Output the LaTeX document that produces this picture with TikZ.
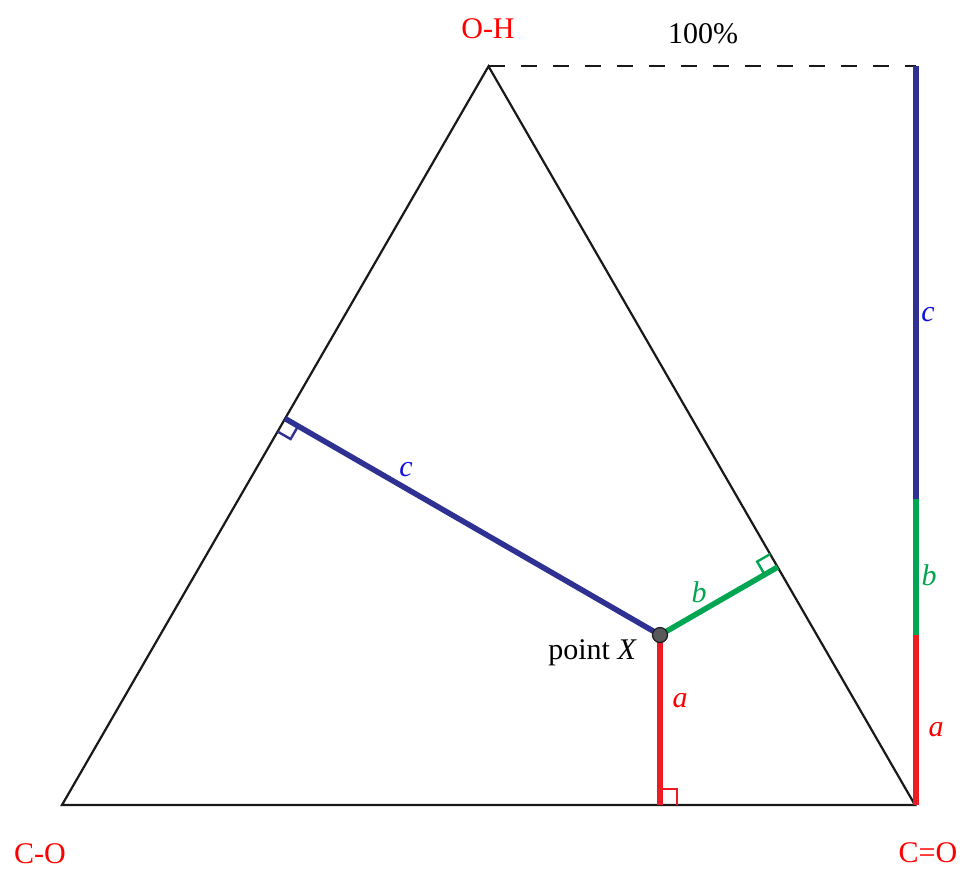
\documentclass[tikz,border=0pt]{standalone}
\usepackage{fontspec}
\setmainfont{Liberation Serif}
\usetikzlibrary{calc}
\definecolor{lred}{HTML}{ED1C24}
\definecolor{lblue}{HTML}{2E3192}
\definecolor{lgreen}{HTML}{00A651}
\definecolor{tred}{HTML}{FF0000}
\definecolor{tblue}{HTML}{1010E0}
\definecolor{tgreen}{HTML}{00A650}
\begin{document}
\begin{tikzpicture}[x=1pt,y=-1pt,
  every node/.style={inner sep=0pt, font=\fontsize{30}{36}\selectfont},
  side/.style={line width=2.2pt, black!90},
  seg/.style={line width=5.5pt},
  rmark/.style={line width=2.4pt},
  lab/.style={anchor=base},
]
\useasboundingbox (0,0) rectangle (964,871);
% triangle corners and point X
\coordinate (CO) at (62,805);
\coordinate (CdO) at (915,805);
\coordinate (OH) at (488.5,66.3);
\coordinate (X) at (660,635);
% feet of perpendiculars
\coordinate (Fa) at ($(CO)!(X)!(CdO)$);
\coordinate (Fb) at ($(CdO)!(X)!(OH)$);
\coordinate (Fc) at ($(CO)!(X)!(OH)$);
% right scale
\coordinate (S0) at (916,66.3);
\coordinate (S1) at (916,499.2);
\coordinate (S2) at (916,635);
\coordinate (S3) at (916,805);
% triangle
\draw[side, line join=miter] (CO) -- (CdO) -- (OH) -- cycle;
\draw[line width=1.8pt, black!90, dash pattern=on 16pt off 16pt] (OH) -- (S0);
% right scale
\draw[seg, lblue] (S0) -- (S1);
\draw[seg, lgreen] (S1) -- (S2);
\draw[seg, lred] (S2) -- (S3);
% right-angle markers
\coordinate (a1) at ($(Fa)!17pt!(CdO)$);
\coordinate (a3) at ($(Fa)!16pt!(X)$);
\coordinate (a2) at ($(a1)+(a3)-(Fa)$);
\draw[rmark, lred] (a1) -- (a2) -- (a3);
\coordinate (b1) at ($(Fb)!15pt!(OH)$);
\coordinate (b3) at ($(Fb)!15pt!(X)$);
\coordinate (b2) at ($(b1)+(b3)-(Fb)$);
\draw[rmark, lgreen] (b1) -- (b2) -- (b3);
\coordinate (c1) at ($(Fc)!15pt!(CO)$);
\coordinate (c3) at ($(Fc)!15pt!(X)$);
\coordinate (c2) at ($(c1)+(c3)-(Fc)$);
\draw[rmark, lblue] (c1) -- (c2) -- (c3);
% perpendiculars
\draw[seg, lred] (X) -- (Fa);
\draw[seg, lgreen] (X) -- (Fb);
\draw[seg, lblue] (X) -- (Fc);
\node[circle, fill=black!65, draw=black!90, line width=1.2pt, minimum size=15pt] (P) at (X) {};
% labels
\node[lab, tred] (lOH) at (488,38) {O-H};
\node[lab] (l100) at (703,43) {100\%};
\node[lab, tred] (lCO) at (40,863) {C-O};
\node[lab, tred] (lCdO) at (928,862) {C=O};
\node[anchor=base east] (lX) at (637,659) {point \textit{X}};
\node[lab, tblue] (lc) at (406,476) {\textit{c}};
\node[lab, tgreen] (lb) at (699,602) {\textit{b}};
\node[lab, tred] (la) at (680,707) {\textit{a}};
\node[lab, tblue] (rc) at (928,321) {\textit{c}};
\node[lab, tgreen] (rb) at (929,585) {\textit{b}};
\node[lab, tred] (ra) at (936,736) {\textit{a}};
\end{tikzpicture}
\end{document}
